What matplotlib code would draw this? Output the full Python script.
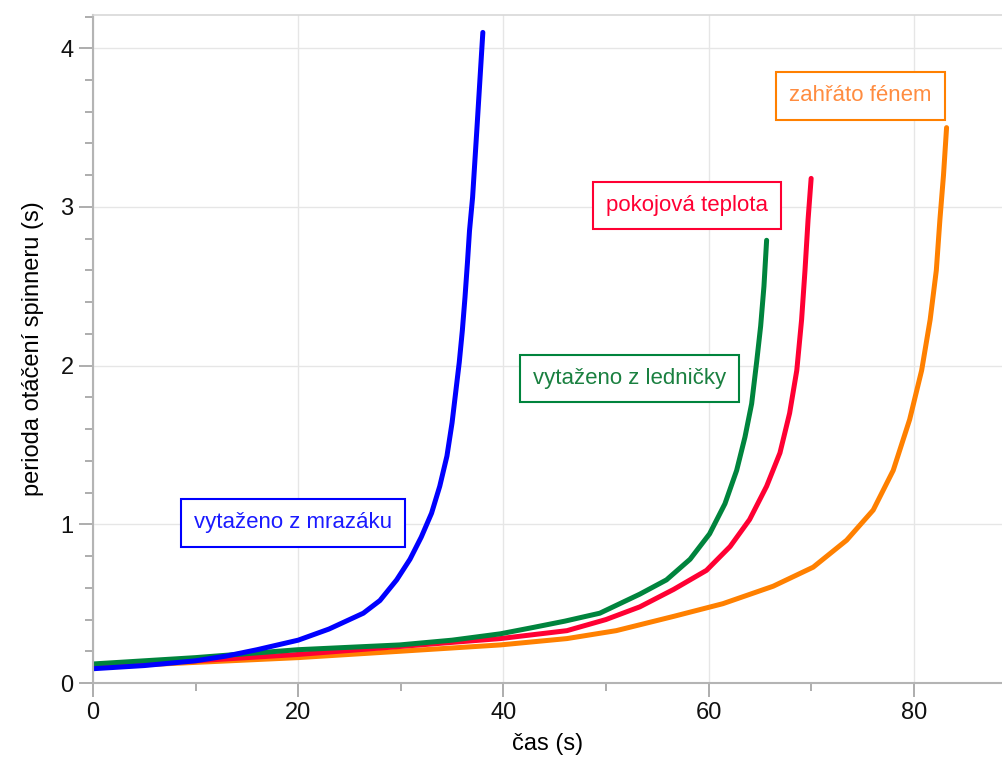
import matplotlib
matplotlib.use("Agg")
import matplotlib.pyplot as plt
from matplotlib.ticker import MultipleLocator

plt.rcParams["font.family"] = ["Liberation Sans", "DejaVu Sans"]

# -------------------------
# Data
# -------------------------
blue_x = [0, 5, 10, 13, 16, 18, 20, 23, 26.35, 27.97, 29.6, 30.9, 32.0, 33.0, 33.8, 34.5,
          35.0, 35.35, 35.7, 36.0, 36.26, 36.5, 36.7, 37.0, 37.4, 38.0]
blue_y = [0.09, 0.11, 0.14, 0.17, 0.21, 0.24, 0.27, 0.34, 0.44, 0.52, 0.65, 0.78, 0.92, 1.07, 1.24, 1.43,
          1.64, 1.83, 2.02, 2.22, 2.43, 2.65, 2.85, 3.06, 3.47, 4.10]

green_x = [0, 10, 20, 29.9, 35, 39.7, 42.9, 46, 49.4, 53.3, 55.9, 58.2, 60.1, 61.6, 62.74,
           63.55, 64.2, 64.7, 65.08, 65.4, 65.66]
green_y = [0.12, 0.16, 0.21, 0.24, 0.27, 0.31, 0.35, 0.39, 0.44, 0.56, 0.65, 0.78, 0.94, 1.13, 1.34,
           1.55, 1.76, 2.03, 2.25, 2.50, 2.79]

red_x = [0, 10, 20, 29.9, 39.7, 46.2, 50.0, 53.3, 56.6, 59.8, 62.1, 64.0, 65.66, 66.96, 67.9,
         68.6, 69.07, 69.4, 69.7, 70.0]
red_y = [0.11, 0.14, 0.18, 0.23, 0.28, 0.33, 0.40, 0.48, 0.59, 0.71, 0.86, 1.03, 1.24, 1.45, 1.70,
         1.97, 2.29, 2.60, 2.92, 3.18]

orange_x = [0, 10, 20, 29.9, 39.7, 46.2, 51.0, 56.6, 61.4, 66.3, 70.2, 73.46, 76.05, 78.0, 79.6,
            80.77, 81.6, 82.2, 82.55, 82.9, 83.2]
orange_y = [0.10, 0.13, 0.16, 0.20, 0.24, 0.28, 0.33, 0.42, 0.50, 0.61, 0.73, 0.90, 1.09, 1.34, 1.66,
            1.97, 2.29, 2.60, 2.92, 3.20, 3.50]

series = [
    (orange_x, orange_y, "#ff8000"),
    (red_x, red_y, "#ff0033"),
    (green_x, green_y, "#00843d"),
    (blue_x, blue_y, "#0000ff"),
]

# label text, position (data), text colour, box colour
labels = [
    ("vytaženo z mrazáku", 19.5, 1.01, "#1a1aff", "#0000ff"),
    ("vytaženo z ledničky", 52.3, 1.92, "#1a8040", "#00843d"),
    ("pokojová teplota", 57.9, 3.01, "#ff0033", "#ff0033"),
    ("zahřáto fénem", 74.8, 3.70, "#ff8c40", "#ff8000"),
]

# -------------------------
# Plot
# -------------------------
fig = plt.figure(figsize=(10.03, 7.67), dpi=100)
ax = fig.add_axes([0.0927, 0.1095, 0.9073, 0.871])

for xs, ys, c in series:
    ax.plot(xs, ys, color=c, lw=3.6, solid_capstyle="round", solid_joinstyle="round")

for text, x, y, tc, ec in labels:
    ax.text(x, y, text, color=tc, fontsize=16, ha="center", va="center",
            bbox=dict(boxstyle="square,pad=0.6", fc="white", ec=ec, lw=1.5))

ax.set_xlim(0, 88.7)
ax.set_ylim(0, 4.21)
ax.xaxis.set_major_locator(MultipleLocator(20))
ax.xaxis.set_minor_locator(MultipleLocator(10))
ax.yaxis.set_major_locator(MultipleLocator(1))
ax.yaxis.set_minor_locator(MultipleLocator(0.2))

ax.grid(True, which="major", color="#e6e6e6", lw=1)
ax.set_axisbelow(True)

for s in ["left", "bottom"]:
    ax.spines[s].set_color("#b4b4b4")
    ax.spines[s].set_linewidth(1.5)
ax.spines["top"].set_color("#d8d8d8")
ax.spines["top"].set_linewidth(1.2)
ax.spines["right"].set_visible(False)

ax.tick_params(which="major", length=10, width=1.2, color="#a0a0a0",
               labelsize=17, labelcolor="#111111", pad=4)
ax.tick_params(which="minor", length=6, width=1.2, color="#a0a0a0")

ax.set_xlabel("čas (s)", fontsize=17, labelpad=6)
ax.set_ylabel("perioda otáčení spinneru (s)", fontsize=17, labelpad=12)

plt.savefig("out.png", dpi=100)
